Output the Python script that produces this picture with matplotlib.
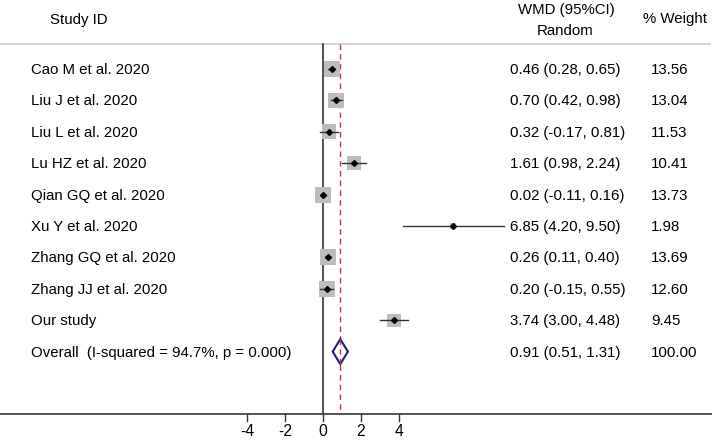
import matplotlib
matplotlib.use("Agg")
import matplotlib.pyplot as plt
from matplotlib.patches import Rectangle, Polygon
import numpy as np

plt.rcParams['font.family'] = ['Liberation Sans', 'DejaVu Sans']

studies = ["Cao M et al. 2020", "Liu J et al. 2020", "Liu L et al. 2020", "Lu HZ et al. 2020",
           "Qian GQ et al. 2020", "Xu Y et al. 2020", "Zhang GQ et al. 2020", "Zhang JJ et al. 2020",
           "Our study"]
wmd = [0.46, 0.70, 0.32, 1.61, 0.02, 6.85, 0.26, 0.20, 3.74]
lo = [0.28, 0.42, -0.17, 0.98, -0.11, 4.20, 0.11, -0.15, 3.00]
hi = [0.65, 0.98, 0.81, 2.24, 0.16, 9.50, 0.40, 0.55, 4.48]
weights = [13.56, 13.04, 11.53, 10.41, 13.73, 1.98, 13.69, 12.60, 9.45]
overall_label = "Overall  (I-squared = 94.7%, p = 0.000)"
overall = (0.91, 0.51, 1.31)
overall_weight = 100.00
xticks = [-4, -2, 0, 2, 4]

W, H = 712, 441
fig = plt.figure(figsize=(W / 100, H / 100), dpi=100)
ax = fig.add_axes([0, 0, 1, 1])
px_per_unit = 19.0
x0px = 323.0
ax.set_xlim(-x0px / px_per_unit, (W - x0px) / px_per_unit)
ax.set_ylim(H, 0)
ax.axis('off')

def xpx(p):
    return (p - x0px) / px_per_unit

row0, dy = 69.0, 31.4
top_line, axis_y = 43.7, 414.0
fs = 10.8

# header
ax.text(xpx(50), 20, "Study ID", fontsize=fs, va='center', ha='left')
ax.text(xpx(566), 10, "WMD (95%CI)", fontsize=fs, va='center', ha='center')
ax.text(xpx(565), 31, "Random", fontsize=fs, va='center', ha='center')
ax.text(xpx(675), 19, "% Weight", fontsize=fs, va='center', ha='center')
ax.plot([xpx(1), xpx(710)], [top_line, top_line], color='#cccccc', lw=1.2)

# reference lines
ax.plot([0, 0], [top_line, axis_y], color='#222222', lw=1.1)
ax.plot([overall[0], overall[0]], [top_line, axis_y], color='#c0394b', lw=1.0, ls=(0, (4, 3)))

k = 16.0 / np.sqrt(13.56)
for i, (s, m, l, h, w) in enumerate(zip(studies, wmd, lo, hi, weights)):
    y = row0 + i * dy
    side = k * np.sqrt(w)
    ax.add_patch(Rectangle((m - side / 2 / px_per_unit, y - side / 2), side / px_per_unit, side,
                           facecolor='#bdbdbd', edgecolor='none', zorder=2))
    ax.plot([l, h], [y, y], color='#333333', lw=1.0, zorder=3)
    ax.plot([m], [y], marker='D', ms=3.0, color='black', zorder=4)
    ax.text(xpx(31), y + 1, s, fontsize=fs, va='center', ha='left')
    ax.text(xpx(510), y + 1, f"{m:.2f} ({l:.2f}, {h:.2f})", fontsize=fs, va='center', ha='left')
    ax.text(xpx(651), y + 1, f"{w:.2f}", fontsize=fs, va='center', ha='left')

y = row0 + len(studies) * dy
m, l, h = overall
ax.add_patch(Polygon([(l, y), (m, y - 12.5), (h, y), (m, y + 12.5)], closed=True,
                     facecolor='white', edgecolor='#1f1f7a', lw=1.5, zorder=3))
ax.plot([m, m], [y - 12.5, y + 12.5], color='#c0394b', lw=1.0, ls=(0, (4, 3)), zorder=4)
ax.text(xpx(31), y + 1, overall_label, fontsize=fs, va='center', ha='left')
ax.text(xpx(510), y + 1, f"{m:.2f} ({l:.2f}, {h:.2f})", fontsize=fs, va='center', ha='left')
ax.text(xpx(651), y + 1, f"{overall_weight:.2f}", fontsize=fs, va='center', ha='left')

# bottom axis
ax.plot([xpx(0), xpx(W)], [axis_y, axis_y], color='#444444', lw=1.3)
for t in xticks:
    ax.plot([t, t], [axis_y, axis_y + 7], color='#333333', lw=1.0)
    ax.text(t, axis_y + 18, f"{t}", fontsize=fs + 0.5, ha='center', va='center')

fig.savefig("out.png", dpi=100)
